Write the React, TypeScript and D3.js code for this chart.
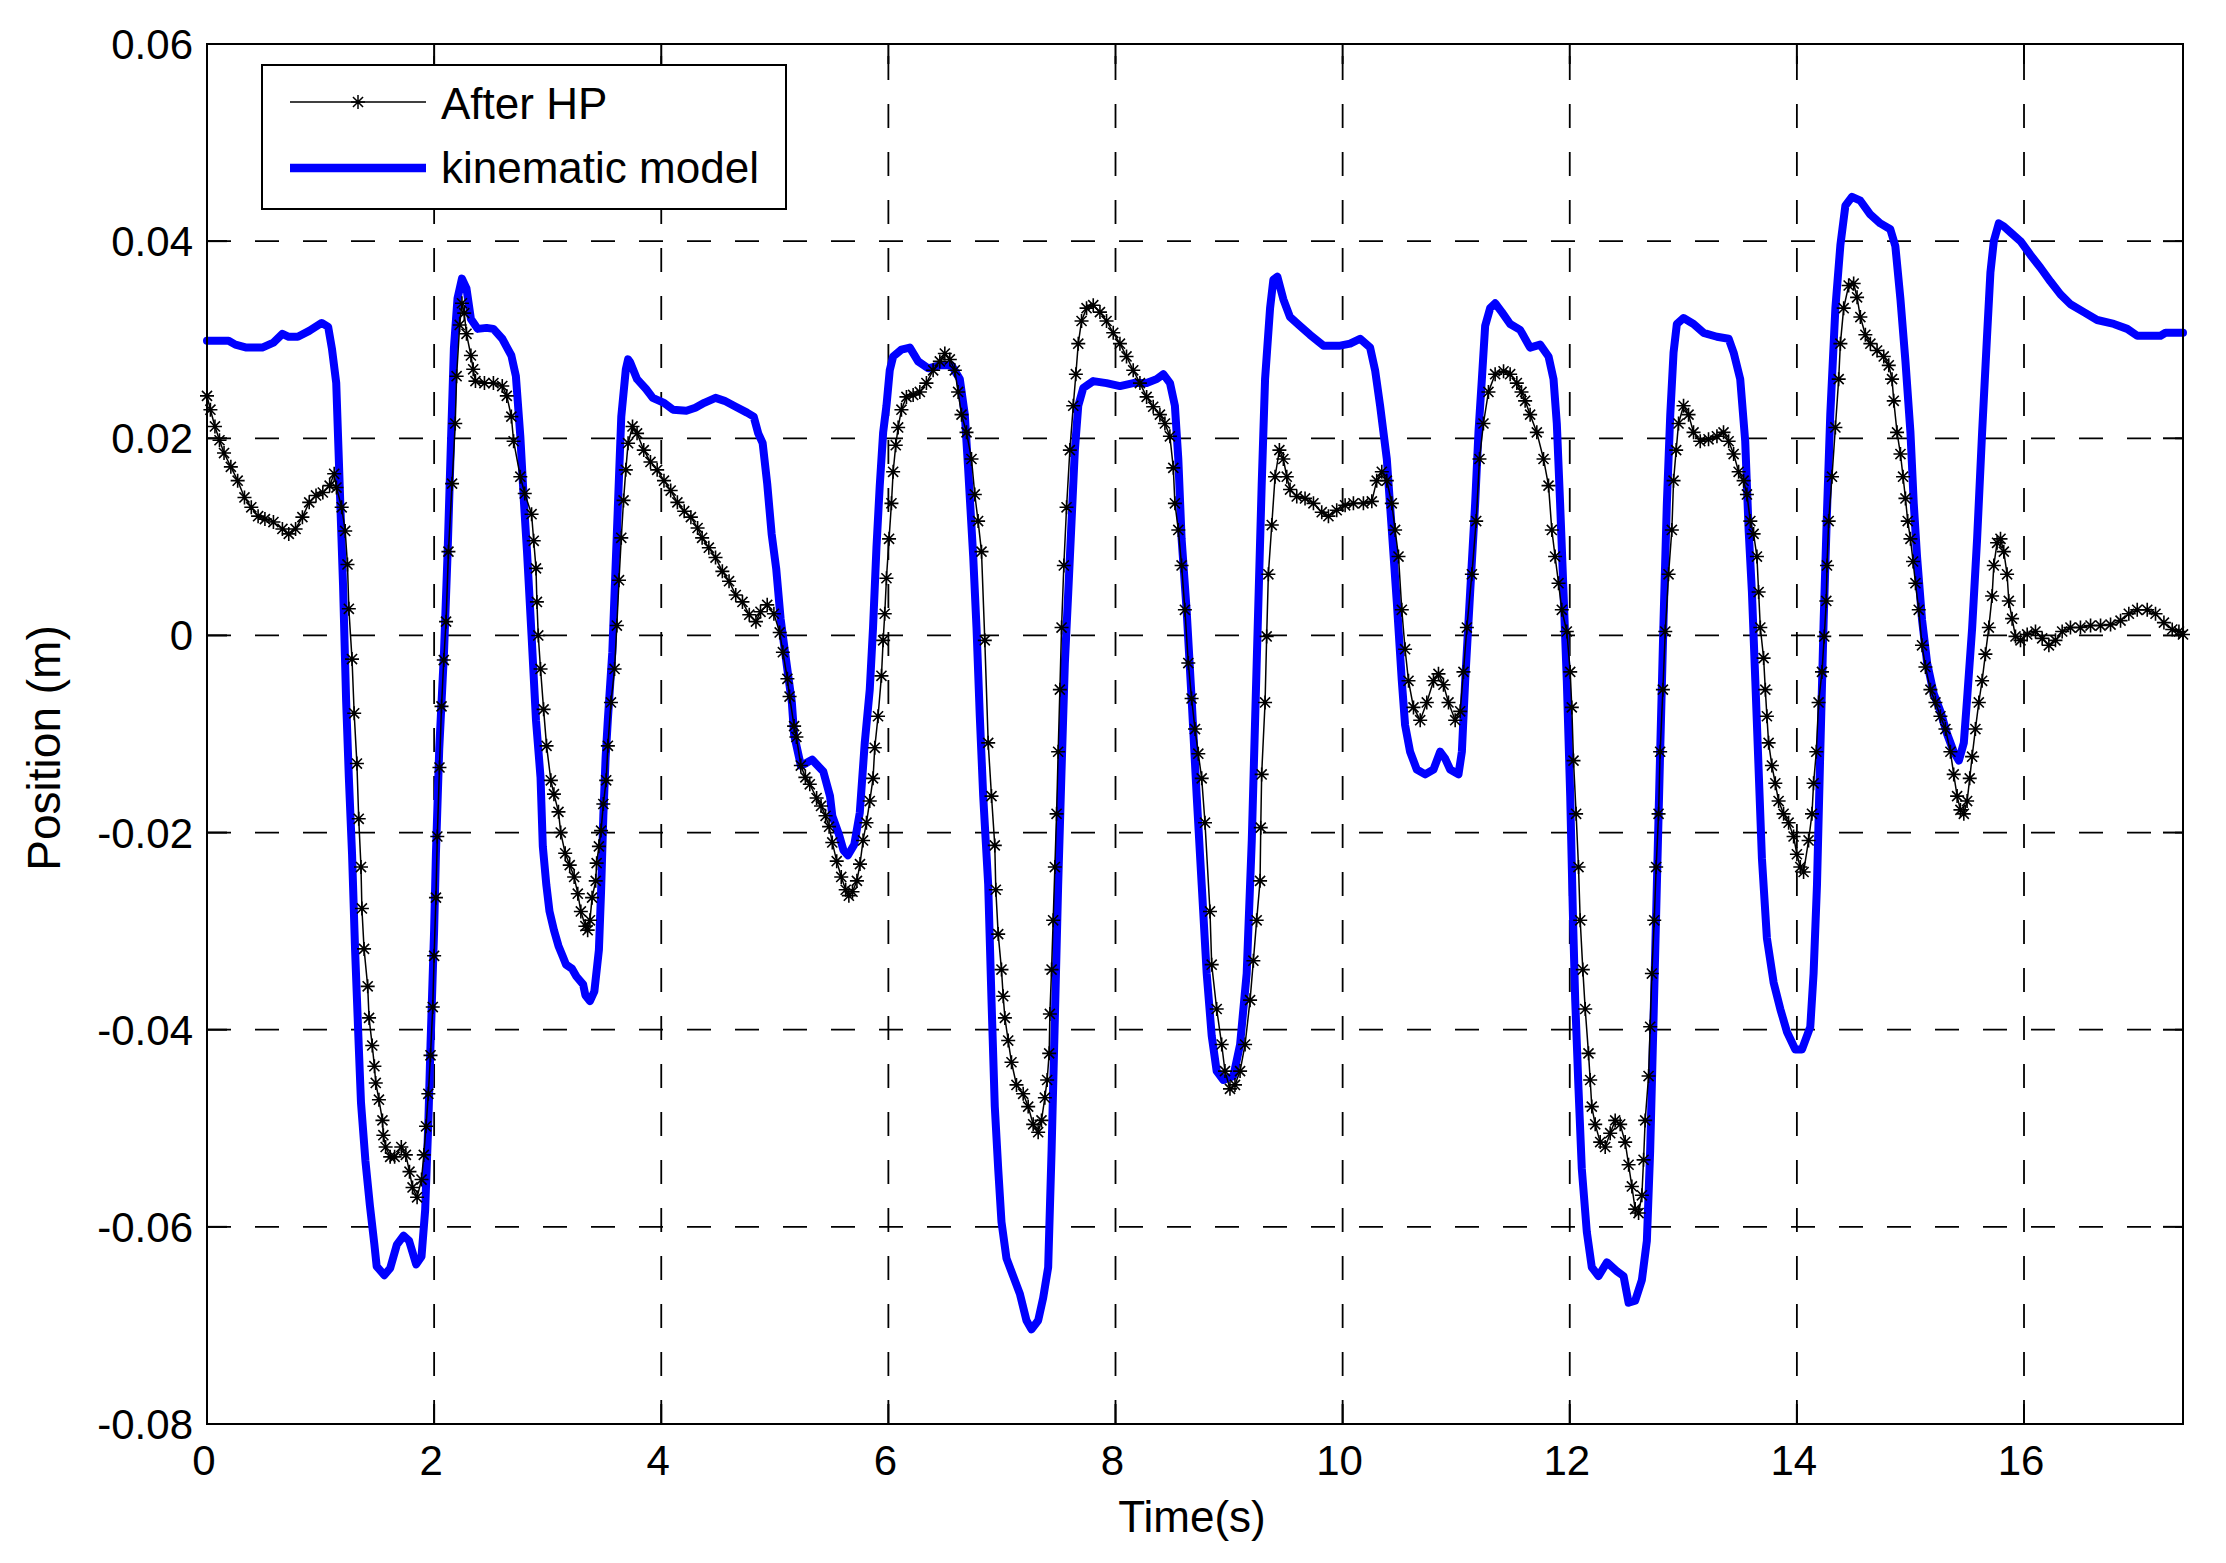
import * as d3 from "d3";
import { useEffect, useRef } from "react";

// x-axis ticks (s) and y-axis ticks (m)
const X_TICKS = [0, 2, 4, 6, 8, 10, 12, 14, 16];
const Y_TICKS = [-0.08, -0.06, -0.04, -0.02, 0, 0.02, 0.04, 0.06];
const Y_LABELS = ["-0.08", "-0.06", "-0.04", "-0.02", "0", "0.02", "0.04", "0.06"];

const SERIES_NAMES = ["After HP", "kinematic model"];

// [time (s), position (m)]
const afterHP: [number, number][] = [
  [0, 0.0243], [0.03, 0.0229], [0.07, 0.0212], [0.11, 0.0198], [0.15, 0.0185], [0.21, 0.0171],
  [0.27, 0.0157], [0.33, 0.014], [0.39, 0.013], [0.45, 0.0121], [0.51, 0.0118], [0.585, 0.0115],
  [0.664, 0.0108], [0.72, 0.0103], [0.78, 0.0108], [0.84, 0.012], [0.9, 0.0135], [0.96, 0.0142],
  [1.02, 0.0145], [1.08, 0.0152], [1.12, 0.0164], [1.14, 0.015], [1.186, 0.013], [1.217, 0.0106],
  [1.237, 0.0072], [1.249, 0.0027], [1.277, -0.0024], [1.296, -0.0079], [1.32, -0.013], [1.336, -0.0186],
  [1.356, -0.0235], [1.364, -0.0277], [1.383, -0.0318], [1.415, -0.0356], [1.427, -0.0388], [1.455, -0.0416],
  [1.474, -0.0437], [1.486, -0.0454], [1.514, -0.0471], [1.545, -0.0492], [1.553, -0.0507], [1.573, -0.0519],
  [1.613, -0.0529], [1.652, -0.0529], [1.711, -0.0519], [1.751, -0.0527], [1.783, -0.0544], [1.81, -0.056],
  [1.85, -0.057], [1.889, -0.0552], [1.909, -0.0527], [1.929, -0.0498], [1.949, -0.0465], [1.968, -0.0426],
  [1.988, -0.0377], [2.0, -0.0325], [2.016, -0.0266], [2.028, -0.0204], [2.047, -0.0134], [2.065, -0.0072],
  [2.085, -0.0025], [2.105, 0.0014], [2.126, 0.0085], [2.158, 0.0154], [2.186, 0.0215], [2.198, 0.0263],
  [2.225, 0.0315], [2.245, 0.0337], [2.265, 0.0327], [2.285, 0.0306], [2.324, 0.0284], [2.344, 0.027],
  [2.364, 0.0258], [2.443, 0.0256], [2.522, 0.0256], [2.6, 0.0253], [2.64, 0.0243], [2.68, 0.0222],
  [2.7, 0.0197], [2.759, 0.0161], [2.798, 0.0144], [2.858, 0.0123], [2.877, 0.0096], [2.897, 0.0068],
  [2.905, 0.0034], [2.917, 0.0], [2.937, -0.0034], [2.964, -0.0075], [2.99, -0.0112], [3.028, -0.0147],
  [3.055, -0.0161], [3.095, -0.0179], [3.115, -0.02], [3.154, -0.0221], [3.194, -0.0233], [3.233, -0.0245],
  [3.265, -0.0262], [3.292, -0.028], [3.332, -0.0295], [3.352, -0.0299], [3.372, -0.0289], [3.391, -0.0266],
  [3.423, -0.0249], [3.431, -0.0231], [3.451, -0.0214], [3.47, -0.0198], [3.49, -0.0171], [3.515, -0.0147],
  [3.53, -0.0112], [3.557, -0.0068], [3.589, -0.0034], [3.609, 0.001], [3.628, 0.0056], [3.648, 0.0099],
  [3.668, 0.0137], [3.688, 0.0168], [3.708, 0.0195], [3.747, 0.0212], [3.787, 0.0205], [3.846, 0.0188],
  [3.905, 0.0176], [3.964, 0.0168], [4.024, 0.0157], [4.083, 0.0147], [4.142, 0.0135], [4.202, 0.0126],
  [4.261, 0.012], [4.32, 0.0109], [4.36, 0.0099], [4.419, 0.0089], [4.478, 0.0079], [4.538, 0.0065],
  [4.597, 0.0055], [4.656, 0.0041], [4.715, 0.0034], [4.775, 0.0021], [4.834, 0.0014], [4.874, 0.0024],
  [4.933, 0.0031], [4.992, 0.0022], [5.043, 0.0003], [5.071, -0.0017], [5.111, -0.0044], [5.13, -0.0062],
  [5.17, -0.0092], [5.19, -0.0103], [5.229, -0.0132], [5.269, -0.0144], [5.308, -0.0151], [5.368, -0.0165],
  [5.407, -0.0173], [5.447, -0.0183], [5.478, -0.0194], [5.506, -0.021], [5.545, -0.0229], [5.585, -0.0245],
  [5.624, -0.0258], [5.652, -0.0264], [5.684, -0.026], [5.723, -0.0249], [5.75, -0.0232], [5.777, -0.0208],
  [5.807, -0.019], [5.836, -0.0168], [5.865, -0.0145], [5.88, -0.0114], [5.909, -0.0082], [5.939, -0.0041],
  [5.954, -0.0005], [5.968, 0.0022], [5.983, 0.0058], [6.006, 0.0098], [6.027, 0.0134], [6.042, 0.0166],
  [6.065, 0.0193], [6.086, 0.0211], [6.115, 0.0229], [6.159, 0.0242], [6.218, 0.0244], [6.277, 0.0247],
  [6.335, 0.0256], [6.394, 0.0269], [6.453, 0.0278], [6.497, 0.0286], [6.541, 0.028], [6.585, 0.0269],
  [6.614, 0.0247], [6.644, 0.0224], [6.688, 0.0206], [6.732, 0.0179], [6.761, 0.0143], [6.79, 0.0116],
  [6.82, 0.0085], [6.849, -0.0005], [6.879, -0.0109], [6.908, -0.0163], [6.937, -0.0213], [6.946, -0.0258],
  [6.967, -0.0303], [6.996, -0.0339], [7.011, -0.0366], [7.026, -0.0388], [7.055, -0.0411], [7.084, -0.0433],
  [7.128, -0.0456], [7.187, -0.0465], [7.231, -0.0478], [7.275, -0.0496], [7.319, -0.0504], [7.348, -0.0492],
  [7.378, -0.0469], [7.398, -0.0451], [7.416, -0.0424], [7.422, -0.0384], [7.437, -0.0339], [7.451, -0.0289],
  [7.466, -0.0235], [7.481, -0.0181], [7.495, -0.0118], [7.51, -0.0055], [7.525, 0.0008], [7.545, 0.0071],
  [7.569, 0.013], [7.598, 0.0188], [7.628, 0.0233], [7.651, 0.0265], [7.672, 0.0296], [7.701, 0.0319],
  [7.745, 0.0332], [7.804, 0.0335], [7.863, 0.0328], [7.921, 0.0319], [7.98, 0.0307], [8.039, 0.0296],
  [8.097, 0.0283], [8.156, 0.0269], [8.215, 0.0256], [8.274, 0.0242], [8.332, 0.0232], [8.391, 0.0224],
  [8.435, 0.0215], [8.479, 0.0202], [8.509, 0.017], [8.523, 0.0134], [8.553, 0.0107], [8.582, 0.0071],
  [8.611, 0.0026], [8.641, -0.0028], [8.67, -0.0064], [8.7, -0.0095], [8.729, -0.012], [8.759, -0.0145],
  [8.788, -0.019], [8.832, -0.028], [8.847, -0.0334], [8.891, -0.0379], [8.935, -0.0415], [8.964, -0.0442],
  [9.008, -0.046], [9.052, -0.0456], [9.097, -0.0442], [9.141, -0.0415], [9.185, -0.037], [9.214, -0.033],
  [9.243, -0.0289], [9.273, -0.0249], [9.279, -0.0195], [9.287, -0.0141], [9.317, -0.0068], [9.331, -0.0001],
  [9.346, 0.0062], [9.376, 0.0112], [9.405, 0.0161], [9.443, 0.0188], [9.478, 0.0179], [9.508, 0.0161],
  [9.537, 0.0148], [9.596, 0.0141], [9.669, 0.0139], [9.743, 0.0134], [9.816, 0.0125], [9.875, 0.0121],
  [9.948, 0.0127], [10.022, 0.0132], [10.095, 0.0134], [10.183, 0.0134], [10.257, 0.0136], [10.3, 0.0157],
  [10.345, 0.0166], [10.389, 0.0157], [10.433, 0.0134], [10.462, 0.0107], [10.492, 0.008], [10.521, 0.0026],
  [10.55, -0.0014], [10.58, -0.0046], [10.624, -0.0073], [10.683, -0.0086], [10.741, -0.0068], [10.8, -0.0046],
  [10.844, -0.0039], [10.888, -0.005], [10.932, -0.0068], [10.991, -0.0086], [11.035, -0.0077], [11.064, -0.0037],
  [11.094, 0.0008], [11.138, 0.0062], [11.176, 0.0116], [11.205, 0.0179], [11.24, 0.0215], [11.284, 0.0247],
  [11.343, 0.0265], [11.417, 0.0268], [11.475, 0.0265], [11.534, 0.0256], [11.575, 0.0247], [11.607, 0.0238],
  [11.651, 0.0224], [11.71, 0.0206], [11.769, 0.0179], [11.813, 0.0152], [11.842, 0.0107], [11.871, 0.008],
  [11.901, 0.0053], [11.93, 0.0026], [11.974, 0.0004], [12.004, -0.0037], [12.018, -0.0073], [12.033, -0.0127],
  [12.056, -0.0181], [12.077, -0.0235], [12.092, -0.0289], [12.115, -0.0339], [12.136, -0.0379], [12.165, -0.0424],
  [12.18, -0.0451], [12.194, -0.0478], [12.224, -0.0496], [12.268, -0.0514], [12.312, -0.0519], [12.356, -0.0505],
  [12.4, -0.0492], [12.444, -0.0496], [12.488, -0.0514], [12.518, -0.0537], [12.547, -0.0559], [12.576, -0.0582],
  [12.606, -0.0586], [12.635, -0.0568], [12.65, -0.0532], [12.664, -0.0492], [12.694, -0.0447], [12.708, -0.0397],
  [12.723, -0.0343], [12.744, -0.0289], [12.761, -0.0235], [12.782, -0.0181], [12.796, -0.0118], [12.82, -0.0055],
  [12.841, 0.0004], [12.87, 0.0062], [12.899, 0.0107], [12.914, 0.0157], [12.937, 0.0188], [12.958, 0.0215],
  [13.002, 0.0233], [13.046, 0.0224], [13.09, 0.0206], [13.149, 0.0197], [13.222, 0.0199], [13.296, 0.0202],
  [13.354, 0.0206], [13.399, 0.0197], [13.443, 0.0184], [13.487, 0.0166], [13.531, 0.0157], [13.56, 0.0143],
  [13.59, 0.0116], [13.619, 0.0103], [13.648, 0.008], [13.663, 0.0044], [13.678, 0.0008], [13.707, -0.0023],
  [13.722, -0.0055], [13.736, -0.0082], [13.751, -0.0109], [13.78, -0.0132], [13.81, -0.015], [13.839, -0.0168],
  [13.883, -0.0181], [13.927, -0.019], [13.971, -0.0204], [14.0, -0.0222], [14.03, -0.0235], [14.059, -0.024],
  [14.103, -0.0208], [14.133, -0.0181], [14.147, -0.015], [14.171, -0.0118], [14.191, -0.0068], [14.221, -0.0037],
  [14.241, -0.0001], [14.259, 0.0035], [14.265, 0.0071], [14.28, 0.0116], [14.309, 0.0161], [14.339, 0.0211],
  [14.368, 0.026], [14.383, 0.0296], [14.412, 0.0332], [14.456, 0.0355], [14.5, 0.0357], [14.53, 0.0343],
  [14.559, 0.0323], [14.603, 0.0305], [14.647, 0.0296], [14.706, 0.0289], [14.765, 0.0283], [14.809, 0.0274],
  [14.838, 0.026], [14.853, 0.0238], [14.882, 0.0206], [14.912, 0.0184], [14.935, 0.0161], [14.956, 0.0139],
  [14.976, 0.0116], [15.0, 0.0098], [15.023, 0.0075], [15.044, 0.0053], [15.073, 0.0026], [15.102, -0.001],
  [15.132, -0.0032], [15.176, -0.0055], [15.22, -0.0068], [15.264, -0.0082], [15.308, -0.0095], [15.352, -0.0118],
  [15.381, -0.0141], [15.411, -0.0163], [15.44, -0.0177], [15.47, -0.0181], [15.499, -0.0168], [15.522, -0.0145],
  [15.543, -0.0123], [15.572, -0.0095], [15.602, -0.0068], [15.631, -0.0046], [15.66, -0.0019], [15.69, 0.0008],
  [15.719, 0.004], [15.734, 0.0071], [15.763, 0.0094], [15.793, 0.0098], [15.822, 0.0085], [15.851, 0.0062],
  [15.866, 0.0035], [15.895, 0.0017], [15.925, -0.0001], [15.969, -0.0005], [16.028, 0.0001], [16.101, 0.0004],
  [16.16, -0.0003], [16.219, -0.001], [16.277, -0.0005], [16.336, 0.0004], [16.409, 0.0008], [16.497, 0.0008],
  [16.586, 0.001], [16.674, 0.001], [16.762, 0.0011], [16.85, 0.0015], [16.923, 0.0022], [16.997, 0.0026],
  [17.085, 0.0026], [17.158, 0.0022], [17.232, 0.0013], [17.305, 0.0006], [17.364, 0.0004], [17.4, 0.0001],
];

const kinematic: [number, number][] = [
  [0, 0.0299], [0.19, 0.0299], [0.25, 0.0295], [0.348, 0.0292], [0.486, 0.0292], [0.585, 0.0297],
  [0.664, 0.0306], [0.72, 0.0303], [0.8, 0.0303], [0.9, 0.0309], [1.01, 0.0317], [1.067, 0.0313],
  [1.1, 0.0291], [1.138, 0.0256], [1.158, 0.0188], [1.198, 0.0051], [1.225, -0.0066], [1.249, -0.0144],
  [1.277, -0.0221], [1.304, -0.0319], [1.336, -0.0416], [1.356, -0.0474], [1.395, -0.0533], [1.435, -0.0579],
  [1.474, -0.0618], [1.494, -0.064], [1.561, -0.0649], [1.613, -0.0642], [1.672, -0.0618], [1.731, -0.0609],
  [1.779, -0.0614], [1.842, -0.0638], [1.889, -0.063], [1.921, -0.0583], [1.949, -0.0494], [1.968, -0.0416],
  [2.0, -0.0299], [2.016, -0.0221], [2.045, -0.0115], [2.087, -0.0017], [2.119, 0.0085], [2.146, 0.0188],
  [2.174, 0.0291], [2.206, 0.0342], [2.245, 0.0362], [2.285, 0.0352], [2.324, 0.0321], [2.383, 0.0311],
  [2.462, 0.0312], [2.522, 0.0311], [2.6, 0.0301], [2.68, 0.0284], [2.72, 0.0263], [2.759, 0.0202],
  [2.79, 0.0137], [2.818, 0.0085], [2.858, 0.0], [2.897, -0.0086], [2.937, -0.0144], [2.957, -0.0214],
  [2.988, -0.0253], [3.016, -0.028], [3.055, -0.0299], [3.095, -0.0315], [3.134, -0.0326], [3.162, -0.0334],
  [3.213, -0.0338], [3.253, -0.0346], [3.312, -0.0354], [3.332, -0.0365], [3.372, -0.0371], [3.411, -0.0361],
  [3.451, -0.0319], [3.47, -0.026], [3.49, -0.0183], [3.51, -0.0124], [3.53, -0.0085], [3.569, -0.0017],
  [3.609, 0.0103], [3.648, 0.0222], [3.688, 0.027], [3.708, 0.028], [3.727, 0.0277], [3.787, 0.026],
  [3.866, 0.025], [3.925, 0.0241], [4.024, 0.0236], [4.103, 0.0229], [4.221, 0.0228], [4.3, 0.0231],
  [4.379, 0.0236], [4.478, 0.0241], [4.557, 0.0238], [4.656, 0.0232], [4.755, 0.0226], [4.814, 0.0222],
  [4.854, 0.0205], [4.893, 0.0195], [4.933, 0.0154], [4.972, 0.0103], [5.012, 0.0068], [5.051, 0.0017],
  [5.09, -0.0017], [5.15, -0.0068], [5.17, -0.0101], [5.229, -0.0132], [5.269, -0.013], [5.328, -0.0126],
  [5.427, -0.0138], [5.486, -0.0163], [5.506, -0.0183], [5.565, -0.0202], [5.605, -0.0218], [5.644, -0.0223],
  [5.7, -0.0212], [5.748, -0.018], [5.792, -0.0109], [5.836, -0.0055], [5.865, 0.0008], [5.895, 0.0089],
  [5.924, 0.0152], [5.954, 0.0206], [5.983, 0.0233], [6.012, 0.0269], [6.042, 0.0283], [6.115, 0.029],
  [6.189, 0.0292], [6.262, 0.0278], [6.35, 0.0271], [6.453, 0.0274], [6.556, 0.0274], [6.629, 0.026],
  [6.673, 0.0224], [6.702, 0.017], [6.747, 0.008], [6.776, 0.0008], [6.805, -0.0082], [6.835, -0.0163],
  [6.879, -0.0253], [6.908, -0.037], [6.937, -0.0478], [6.967, -0.0541], [6.996, -0.0595], [7.04, -0.0632],
  [7.099, -0.065], [7.158, -0.0668], [7.216, -0.0695], [7.26, -0.0704], [7.319, -0.0695], [7.363, -0.0672],
  [7.407, -0.0641], [7.437, -0.0523], [7.466, -0.0388], [7.495, -0.0253], [7.525, -0.0136], [7.554, -0.0028],
  [7.584, 0.0044], [7.613, 0.0116], [7.642, 0.0188], [7.672, 0.0233], [7.716, 0.0251], [7.804, 0.0258],
  [7.921, 0.0256], [8.039, 0.0253], [8.156, 0.0256], [8.274, 0.0256], [8.362, 0.026], [8.421, 0.0265],
  [8.48, 0.0256], [8.523, 0.0233], [8.553, 0.0179], [8.582, 0.0098], [8.626, 0.0026], [8.67, -0.0064],
  [8.715, -0.0163], [8.759, -0.0253], [8.803, -0.0343], [8.847, -0.0406], [8.891, -0.0442], [8.95, -0.0451],
  [9.038, -0.0447], [9.097, -0.0415], [9.155, -0.0343], [9.2, -0.0208], [9.243, -0.0029], [9.287, 0.0152],
  [9.317, 0.026], [9.361, 0.0332], [9.39, 0.0361], [9.425, 0.0364], [9.478, 0.0341], [9.537, 0.0323],
  [9.625, 0.0314], [9.713, 0.0305], [9.831, 0.0294], [9.978, 0.0294], [10.066, 0.0296], [10.154, 0.0301],
  [10.242, 0.0292], [10.286, 0.0269], [10.33, 0.0233], [10.389, 0.0179], [10.433, 0.0107], [10.477, 0.0034],
  [10.521, -0.0046], [10.55, -0.0091], [10.594, -0.0118], [10.653, -0.0136], [10.727, -0.0141], [10.8, -0.0136],
  [10.859, -0.0118], [10.903, -0.0125], [10.947, -0.0136], [11.02, -0.0141], [11.05, -0.0118], [11.079, -0.0046],
  [11.123, 0.0044], [11.167, 0.0134], [11.196, 0.0206], [11.226, 0.026], [11.255, 0.0314], [11.299, 0.0332],
  [11.343, 0.0337], [11.402, 0.0328], [11.475, 0.0316], [11.563, 0.031], [11.651, 0.0292], [11.739, 0.0295],
  [11.813, 0.0283], [11.857, 0.026], [11.886, 0.0215], [11.915, 0.0134], [11.945, 0.0044], [11.974, -0.0046],
  [12.004, -0.0163], [12.027, -0.028], [12.048, -0.037], [12.077, -0.046], [12.106, -0.0541], [12.15, -0.0605],
  [12.194, -0.0641], [12.253, -0.065], [12.327, -0.0636], [12.415, -0.0645], [12.474, -0.065], [12.518, -0.0677],
  [12.576, -0.0675], [12.635, -0.0654], [12.679, -0.0614], [12.708, -0.0523], [12.738, -0.0388], [12.767, -0.0253],
  [12.796, -0.0118], [12.826, 0.0016], [12.855, 0.0134], [12.885, 0.0224], [12.914, 0.0287], [12.943, 0.0316],
  [13.002, 0.0322], [13.09, 0.0316], [13.178, 0.0307], [13.296, 0.0303], [13.399, 0.0301], [13.443, 0.0287],
  [13.501, 0.026], [13.545, 0.0197], [13.575, 0.0107], [13.604, 0.0044], [13.634, -0.0046], [13.663, -0.0136],
  [13.692, -0.0226], [13.736, -0.0307], [13.795, -0.0352], [13.854, -0.0379], [13.912, -0.0402], [13.986, -0.042],
  [14.045, -0.042], [14.118, -0.0397], [14.147, -0.0343], [14.177, -0.0253], [14.206, -0.0118], [14.236, 0.0016],
  [14.265, 0.0125], [14.294, 0.0224], [14.339, 0.0332], [14.383, 0.0396], [14.427, 0.0436], [14.485, 0.0445],
  [14.559, 0.0441], [14.647, 0.0427], [14.735, 0.0418], [14.823, 0.0412], [14.867, 0.0395], [14.912, 0.0341],
  [14.956, 0.0278], [15.0, 0.0206], [15.029, 0.0134], [15.058, 0.008], [15.102, 0.0016], [15.147, -0.0028],
  [15.205, -0.0059], [15.264, -0.0077], [15.323, -0.01], [15.381, -0.0118], [15.426, -0.0127], [15.47, -0.0109],
  [15.499, -0.0064], [15.543, 0.0007], [15.587, 0.0098], [15.631, 0.0206], [15.675, 0.0305], [15.704, 0.0368],
  [15.734, 0.04], [15.778, 0.0418], [15.822, 0.0415], [15.88, 0.0409], [15.969, 0.04], [16.057, 0.0386],
  [16.145, 0.0373], [16.233, 0.0359], [16.321, 0.0346], [16.409, 0.0336], [16.527, 0.0328], [16.644, 0.032],
  [16.791, 0.0316], [16.909, 0.0311], [16.997, 0.0304], [17.114, 0.0304], [17.202, 0.0304], [17.246, 0.0307],
  [17.4, 0.0307],
];

const W = 2226;
const H = 1563;
const FONT = "'Liberation Sans', Arial, Helvetica, sans-serif";

// MATLAB-style '*' marker
const star = (r: number) => {
  const d = r * 0.72;
  return `M${-r},0H${r}M0,${-r}V${r}M${-d},${-d}L${d},${d}M${-d},${d}L${d},${-d}`;
};

function Chart() {
  const svgRef = useRef<SVGSVGElement>(null);

  useEffect(() => {
    if (!svgRef.current) return;
    const svg = d3.select(svgRef.current);
    svg.selectAll("*").remove();

    const m = { left: 207, right: 2183, top: 44, bottom: 1424 };
    const x = d3.scaleLinear().domain([0, 17.4]).range([m.left, m.right]);
    const y = d3.scaleLinear().domain([-0.08, 0.06]).range([m.bottom, m.top]);

    svg.append("rect").attr("width", W).attr("height", H).attr("fill", "#fff");

    // dashed grid
    const grid = svg.append("g").attr("stroke", "#000").attr("stroke-width", 1.8)
      .attr("stroke-dasharray", "24,24");
    X_TICKS.filter((t) => t > 0).forEach((t) => {
      grid.append("line").attr("x1", x(t)).attr("x2", x(t))
        .attr("y1", m.bottom).attr("y2", m.top);
    });
    Y_TICKS.filter((v) => v > -0.08 && v < 0.06).forEach((v) => {
      grid.append("line").attr("x1", m.left).attr("x2", m.right)
        .attr("y1", y(v)).attr("y2", y(v));
    });

    // inward tick marks on all four sides
    const ticks = svg.append("g").attr("stroke", "#000").attr("stroke-width", 2);
    X_TICKS.forEach((t) => {
      ticks.append("line").attr("x1", x(t)).attr("x2", x(t)).attr("y1", m.bottom).attr("y2", m.bottom - 20);
      ticks.append("line").attr("x1", x(t)).attr("x2", x(t)).attr("y1", m.top).attr("y2", m.top + 20);
    });
    Y_TICKS.forEach((v) => {
      ticks.append("line").attr("x1", m.left).attr("x2", m.left + 20).attr("y1", y(v)).attr("y2", y(v));
      ticks.append("line").attr("x1", m.right).attr("x2", m.right - 20).attr("y1", y(v)).attr("y2", y(v));
    });

    const plot = svg.append("g");

    // kinematic model (thick blue)
    const line = d3.line<[number, number]>().x((d) => x(d[0])).y((d) => y(d[1]));
    plot.append("path").datum(kinematic).attr("d", line)
      .attr("fill", "none").attr("stroke", "#0000ff").attr("stroke-width", 8)
      .attr("stroke-linejoin", "round").attr("stroke-linecap", "round");

    // After HP (thin black with star markers)
    plot.append("path").datum(afterHP).attr("d", line)
      .attr("fill", "none").attr("stroke", "#000").attr("stroke-width", 1.5);
    plot.selectAll(".mk").data(afterHP).enter().append("path")
      .attr("transform", (d) => `translate(${x(d[0])},${y(d[1])})`)
      .attr("d", star(7)).attr("fill", "none").attr("stroke", "#000").attr("stroke-width", 1.6);

    // axes box
    svg.append("rect").attr("x", m.left).attr("y", m.top)
      .attr("width", m.right - m.left).attr("height", m.bottom - m.top)
      .attr("fill", "none").attr("stroke", "#000").attr("stroke-width", 2);

    // tick labels
    const lab = svg.append("g").attr("font-family", FONT).attr("font-size", 42).attr("fill", "#000");
    X_TICKS.forEach((t) => {
      lab.append("text").attr("x", x(t) - 3).attr("y", 1475).attr("text-anchor", "middle").text(String(t));
    });
    Y_TICKS.forEach((v, i) => {
      lab.append("text").attr("x", 193).attr("y", y(v) + 15).attr("text-anchor", "end").text(Y_LABELS[i]);
    });

    // axis titles
    svg.append("text").attr("x", 1192).attr("y", 1532).attr("text-anchor", "middle")
      .attr("font-family", FONT).attr("font-size", 44).text("Time(s)");
    svg.append("text").attr("transform", `translate(60,748) rotate(-90)`).attr("text-anchor", "middle")
      .attr("font-family", FONT).attr("font-size", 46).text("Position (m)");

    // legend
    const lg = svg.append("g");
    lg.append("rect").attr("x", 262).attr("y", 65).attr("width", 524).attr("height", 144)
      .attr("fill", "#fff").attr("stroke", "#000").attr("stroke-width", 2);
    lg.append("line").attr("x1", 290).attr("x2", 426).attr("y1", 102).attr("y2", 102)
      .attr("stroke", "#000").attr("stroke-width", 1.5);
    lg.append("path").attr("transform", "translate(358,102)").attr("d", star(7))
      .attr("fill", "none").attr("stroke", "#000").attr("stroke-width", 1.5);
    lg.append("line").attr("x1", 290).attr("x2", 426).attr("y1", 168).attr("y2", 168)
      .attr("stroke", "#0000ff").attr("stroke-width", 8.5);
    lg.append("text").attr("x", 441).attr("y", 119).attr("font-family", FONT).attr("font-size", 44)
      .text(SERIES_NAMES[0]);
    lg.append("text").attr("x", 441).attr("y", 183).attr("font-family", FONT).attr("font-size", 44)
      .text(SERIES_NAMES[1]);
  }, []);

  return (
    <svg ref={svgRef} width={W} height={H}
      style={{ position: "absolute", left: 0, top: 0, display: "block" }} />
  );
}

export default function App() {
  return <Chart />;
}
